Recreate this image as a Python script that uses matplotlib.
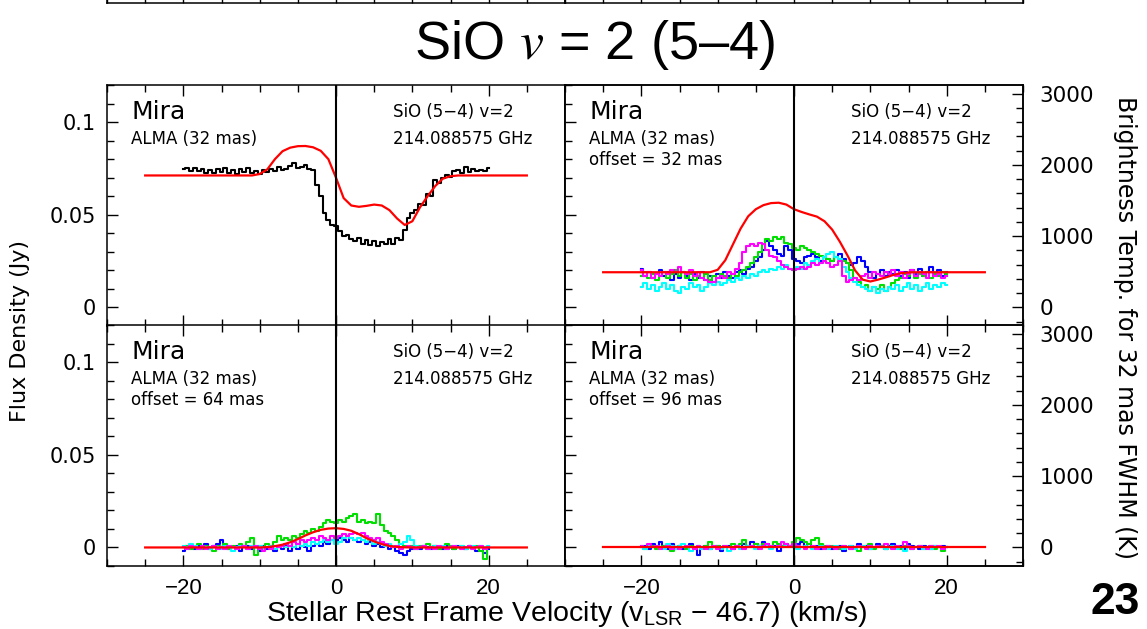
import numpy as np
import matplotlib
matplotlib.use('Agg')
import matplotlib.pyplot as plt
from matplotlib.ticker import MultipleLocator, FixedLocator

plt.rcParams['mathtext.fontset'] = 'custom'
plt.rcParams['mathtext.rm'] = 'Liberation Sans'
plt.rcParams['mathtext.it'] = 'Liberation Sans:italic'

# channel velocities (km/s) of the spectra and of the red model curves
vel = np.arange(-20, 20.01, 0.5)
vmod = np.arange(-25, 26, 1)

# ---- panel 1: centre, black spectrum + model (Jy)
obs_c = [0.0745, 0.0752, 0.0738, 0.0750, 0.0735, 0.0748, 0.0728, 0.0742, 0.0725, 0.0745,
         0.0732, 0.0750, 0.0728, 0.0740, 0.0722, 0.0745, 0.0730, 0.0752, 0.0726, 0.0738,
         0.0722, 0.0742, 0.0730, 0.0748, 0.0735, 0.0755, 0.0740, 0.0745, 0.0765, 0.0778,
         0.0752, 0.0760, 0.0770, 0.0748, 0.0740, 0.0660, 0.0600, 0.0510, 0.0470, 0.0445,
         0.0440, 0.0410, 0.0385, 0.0390, 0.0370, 0.0360, 0.0375, 0.0340, 0.0365, 0.0335,
         0.0360, 0.0330, 0.0355, 0.0340, 0.0370, 0.0345, 0.0375, 0.0365, 0.0420, 0.0480,
         0.0510, 0.0525, 0.0560, 0.0555, 0.0610, 0.0600, 0.0690, 0.0670, 0.0700, 0.0715,
         0.0705, 0.0735, 0.0740, 0.0728, 0.0755, 0.0730, 0.0745, 0.0735, 0.0742, 0.0738,
         0.0752]
mod_c = [0.0712] * 15 + [0.0720, 0.0745, 0.0800, 0.0843, 0.0862, 0.0870, 0.0871, 0.0864,
                         0.0845, 0.0800, 0.0700, 0.0590, 0.0550, 0.0543, 0.0548, 0.0555,
                         0.0550, 0.0525, 0.0480, 0.0445, 0.0465, 0.0540, 0.0600, 0.0655,
                         0.0695, 0.0708] + [0.0712] * 10

# ---- panel 2: offset 32 mas
blue_32 = [0.021, 0.017, 0.019, 0.016, 0.018, 0.020, 0.017, 0.019, 0.015, 0.018,
           0.016, 0.019, 0.017, 0.015, 0.018, 0.016, 0.019, 0.015, 0.017, 0.014,
           0.018, 0.016, 0.019, 0.017, 0.016, 0.019, 0.020, 0.018, 0.021, 0.022,
           0.025, 0.027, 0.031, 0.036, 0.033, 0.031, 0.029, 0.028, 0.033, 0.031,
           0.026, 0.025, 0.024, 0.027, 0.028, 0.029, 0.027, 0.025, 0.027, 0.026,
           0.025, 0.027, 0.029, 0.026, 0.024, 0.023, 0.024, 0.027, 0.025, 0.022,
           0.019, 0.016, 0.018, 0.020, 0.017, 0.019, 0.018, 0.020, 0.017, 0.019,
           0.016, 0.020, 0.018, 0.021, 0.017, 0.019, 0.022, 0.018, 0.020, 0.017,
           0.019]
green_32 = [0.017, 0.019, 0.016, 0.018, 0.015, 0.017, 0.019, 0.016, 0.018, 0.020,
            0.017, 0.019, 0.016, 0.018, 0.015, 0.017, 0.016, 0.018, 0.015, 0.017,
            0.016, 0.018, 0.017, 0.016, 0.018, 0.017, 0.019, 0.020, 0.022, 0.024,
            0.027, 0.030, 0.034, 0.037, 0.036, 0.038, 0.037, 0.038, 0.035, 0.034,
            0.032, 0.031, 0.033, 0.032, 0.031, 0.030, 0.029, 0.028, 0.027, 0.026,
            0.025, 0.027, 0.026, 0.025, 0.024, 0.020, 0.016, 0.014, 0.011, 0.012,
            0.009, 0.011, 0.010, 0.012, 0.009, 0.011, 0.013, 0.015, 0.016, 0.018,
            0.017, 0.019, 0.016, 0.018, 0.017, 0.019, 0.016, 0.018, 0.017, 0.019,
            0.018]
mag_32 = [0.020, 0.017, 0.019, 0.016, 0.018, 0.017, 0.019, 0.018, 0.020, 0.019,
          0.022, 0.019, 0.018, 0.020, 0.017, 0.019, 0.016, 0.015, 0.014, 0.014,
          0.016, 0.017, 0.016, 0.019, 0.018, 0.021, 0.024, 0.030, 0.033, 0.034,
          0.033, 0.035, 0.034, 0.031, 0.028, 0.027, 0.025, 0.023, 0.022, 0.021,
          0.020, 0.021, 0.022, 0.021, 0.022, 0.024, 0.023, 0.024, 0.025, 0.024,
          0.022, 0.023, 0.025, 0.017, 0.014, 0.015, 0.016, 0.015, 0.017, 0.018,
          0.016, 0.019, 0.018, 0.017, 0.019, 0.018, 0.020, 0.017, 0.019, 0.016,
          0.018, 0.020, 0.017, 0.019, 0.018, 0.016, 0.019, 0.017, 0.018, 0.016,
          0.017]
cyan_32 = [0.011, 0.013, 0.010, 0.012, 0.009, 0.011, 0.013, 0.010, 0.012, 0.009,
           0.008, 0.011, 0.010, 0.013, 0.011, 0.012, 0.009, 0.011, 0.013, 0.012,
           0.014, 0.012, 0.013, 0.015, 0.014, 0.016, 0.015, 0.017, 0.016, 0.018,
           0.017, 0.019, 0.020, 0.019, 0.021, 0.020, 0.022, 0.021, 0.023, 0.021,
           0.020, 0.022, 0.021, 0.024, 0.023, 0.025, 0.026, 0.024, 0.027, 0.029,
           0.030, 0.027, 0.026, 0.022, 0.019, 0.016, 0.014, 0.012, 0.011, 0.010,
           0.009, 0.011, 0.008, 0.010, 0.009, 0.011, 0.010, 0.012, 0.009, 0.011,
           0.013, 0.010, 0.012, 0.009, 0.011, 0.013, 0.010, 0.012, 0.011, 0.013,
           0.012]
mod_32 = [0.0190] * 15 + [0.0203, 0.0255, 0.0340, 0.0425, 0.0492, 0.0530, 0.0552, 0.0563,
                          0.0565, 0.0555, 0.0530, 0.0515, 0.0502, 0.0490, 0.0465, 0.0420,
                          0.0355, 0.0281, 0.0200, 0.0150, 0.0140, 0.0150, 0.0162, 0.0175,
                          0.0185, 0.0189] + [0.0190] * 10

# ---- panel 3: offset 64 mas
blue_64 = [-0.002, 0.001, 0.000, -0.001, 0.001, 0.000, 0.002, -0.001, 0.001, 0.002,
           0.004, 0.001, -0.001, 0.000, 0.001, -0.002, 0.000, 0.001, -0.001, 0.000,
           -0.002, 0.001, -0.001, 0.000, -0.002, 0.000, -0.001, 0.001, -0.002, 0.000,
           -0.001, 0.001, 0.000, -0.002, 0.001, 0.002, 0.001, 0.003, 0.002, 0.004,
           0.003, 0.005, 0.004, 0.003, 0.005, 0.004, 0.003, 0.004, 0.002, 0.003,
           0.001, 0.002, 0.000, 0.001, -0.001, 0.000, -0.002, -0.003, -0.004, -0.002,
           -0.001, 0.000, -0.001, 0.001, 0.000, -0.001, 0.001, 0.000, -0.001, 0.001,
           0.000, -0.001, 0.001, 0.000, -0.001, 0.001, 0.000, -0.002, 0.000, -0.003,
           -0.001]
green_64 = [0.000, 0.001, -0.001, 0.000, 0.002, -0.001, 0.001, 0.000, -0.002, 0.001,
            0.000, 0.002, -0.001, 0.001, 0.000, 0.002, 0.001, 0.003, 0.005, -0.004,
            0.001, 0.000, 0.002, 0.001, 0.003, 0.006, 0.004, 0.005, 0.004, 0.006,
            0.005, 0.007, 0.009, 0.008, 0.010, 0.009, 0.011, 0.013, 0.015, 0.014,
            0.013, 0.015, 0.014, 0.016, 0.017, 0.018, 0.014, 0.015, 0.013, 0.014,
            0.013, 0.018, 0.012, 0.009, 0.008, 0.006, 0.004, 0.002, 0.001, 0.000,
            0.001, -0.001, 0.001, 0.000, 0.002, 0.000, 0.001, -0.001, 0.000, 0.002,
            0.001, -0.001, 0.000, 0.001, -0.001, 0.001, 0.000, 0.001, -0.002, -0.006,
            0.000]
mag_64 = [0.000, -0.001, 0.001, 0.000, -0.001, 0.001, -0.001, 0.000, 0.001, -0.001,
          0.000, -0.001, 0.001, 0.000, -0.001, 0.000, 0.001, -0.001, 0.000, 0.001,
          -0.001, -0.002, 0.000, -0.001, 0.001, 0.000, 0.001, 0.002, 0.001, 0.003,
          0.002, 0.004, 0.003, 0.004, 0.005, 0.004, 0.006, 0.005, 0.004, 0.006,
          0.005, 0.006, 0.007, 0.006, 0.007, 0.008, 0.007, 0.008, 0.006, 0.005,
          0.004, 0.005, 0.003, 0.002, 0.001, 0.000, 0.001, -0.001, 0.000, 0.001,
          0.000, -0.001, 0.000, 0.001, -0.001, 0.000, -0.001, 0.001, 0.000, -0.001,
          0.000, 0.001, 0.000, -0.001, 0.000, 0.001, -0.001, 0.000, 0.001, -0.001,
          0.000]
cyan_64 = [0.001, 0.000, 0.002, 0.001, -0.001, 0.001, 0.000, -0.001, 0.001, 0.000,
           -0.001, 0.001, 0.000, -0.002, 0.000, 0.001, 0.000, -0.001, 0.001, 0.000,
           0.001, -0.001, 0.000, 0.001, -0.001, 0.000, 0.001, 0.000, 0.001, 0.000,
           0.002, 0.001, 0.002, 0.001, 0.003, 0.002, 0.003, 0.004, 0.003, 0.004,
           0.002, 0.003, 0.005, 0.006, 0.005, 0.004, 0.005, 0.004, 0.003, 0.004,
           0.002, 0.003, 0.002, 0.001, 0.002, 0.001, 0.000, 0.002, 0.003, 0.006,
           0.004, 0.001, 0.000, 0.001, -0.001, 0.000, 0.001, 0.000, 0.001, -0.001,
           0.000, 0.001, 0.000, 0.001, -0.001, 0.000, 0.001, 0.000, 0.001, 0.000,
           0.001]
mod_64 = [0.0] * 15 + [0.0, 0.0002, 0.0007, 0.0015, 0.0028, 0.0045, 0.0065, 0.0082,
                       0.0095, 0.0102, 0.0104, 0.0100, 0.0090, 0.0072, 0.0050, 0.0032,
                       0.0018, 0.0008, 0.0003, 0.0001, 0.0, 0.0, 0.0, 0.0,
                       0.0, 0.0] + [0.0] * 10

# ---- panel 4: offset 96 mas
blue_96 = [0.000, 0.001, -0.001, 0.002, 0.000, 0.003, 0.001, -0.001, 0.002, 0.000,
           0.001, -0.001, 0.000, 0.002, -0.001, -0.004, 0.000, 0.001, -0.001, 0.000,
           0.001, -0.002, 0.000, 0.001, -0.001, 0.001, 0.000, 0.002, 0.001, 0.003,
           0.002, 0.001, 0.003, 0.002, 0.000, 0.001, -0.002, 0.000, 0.002, 0.001,
           0.000, 0.002, 0.003, 0.001, 0.002, 0.000, 0.001, -0.001, 0.000, 0.001,
           -0.001, 0.000, 0.001, -0.002, 0.000, 0.001, 0.000, 0.002, 0.000, 0.001,
           -0.001, 0.000, 0.002, 0.001, -0.001, 0.001, 0.002, 0.000, 0.001, -0.001,
           0.002, 0.001, 0.000, -0.001, 0.001, 0.000, -0.001, 0.001, 0.000, 0.001,
           0.000]
green_96 = [0.001, -0.001, 0.000, 0.001, -0.001, 0.000, 0.001, 0.000, -0.002, 0.000,
            0.001, 0.000, -0.001, 0.001, 0.000, 0.001, 0.000, 0.001, 0.003, 0.000,
            0.001, -0.001, 0.001, 0.000, 0.002, 0.001, 0.002, 0.004, 0.001, 0.000,
            0.002, 0.001, 0.002, 0.000, 0.001, 0.003, 0.002, 0.001, 0.002, 0.001,
            0.003, 0.005, 0.004, 0.003, 0.002, 0.004, 0.005, 0.002, 0.001, 0.000,
            0.001, 0.000, -0.001, 0.001, 0.000, -0.001, 0.000, -0.002, 0.001, 0.000,
            0.002, -0.001, 0.000, 0.001, -0.001, 0.000, 0.001, 0.000, -0.001, 0.001,
            0.000, -0.001, 0.000, 0.001, -0.001, 0.000, 0.001, -0.001, 0.000, -0.002,
            0.000]
mag_96 = [0.001, 0.000, 0.002, 0.000, 0.001, -0.001, 0.000, 0.001, -0.001, 0.000,
          -0.001, 0.000, 0.001, 0.000, -0.001, 0.001, 0.000, -0.001, 0.000, 0.001,
          -0.001, 0.000, 0.001, 0.000, -0.001, 0.001, 0.000, -0.001, 0.000, 0.001,
          0.000, -0.001, 0.001, 0.002, 0.001, 0.000, 0.001, 0.003, 0.002, 0.001,
          0.002, 0.001, 0.000, -0.001, 0.000, 0.001, -0.001, 0.000, -0.001, 0.001,
          0.000, -0.001, 0.000, 0.001, 0.000, -0.001, 0.000, 0.001, 0.000, -0.001,
          0.001, 0.000, 0.001, 0.000, 0.002, 0.000, -0.001, 0.001, 0.000, 0.003,
          0.001, -0.001, 0.000, 0.001, 0.000, -0.001, 0.001, 0.000, 0.001, -0.001,
          0.000]
cyan_96 = [0.000, -0.001, 0.001, 0.000, 0.001, 0.000, -0.001, 0.002, 0.001, -0.001,
           0.001, 0.002, 0.000, -0.002, 0.000, 0.001, -0.001, 0.000, -0.001, 0.001,
           0.000, -0.001, 0.000, -0.002, 0.000, 0.001, -0.001, 0.000, 0.001, 0.000,
           -0.001, 0.001, 0.000, 0.001, -0.001, 0.000, 0.001, 0.000, 0.001, 0.000,
           0.001, -0.001, 0.000, 0.001, 0.000, -0.001, 0.000, 0.001, 0.000, -0.001,
           0.000, 0.001, 0.000, -0.001, 0.000, 0.001, -0.001, 0.000, 0.001, 0.000,
           -0.001, 0.000, 0.001, 0.000, -0.001, 0.000, 0.001, -0.001, 0.000, -0.002,
           0.000, -0.001, 0.000, 0.001, -0.001, 0.000, -0.001, 0.001, 0.000, -0.001,
           0.000]
mod_96 = [0.0] * 51

offsets = [None, '32', '64', '96']
K_PER_JY = 26000.0

col_blue, col_green, col_mag, col_cyan, col_red = '#0000ff', '#00e000', '#ff00ff', '#00ffff', '#ff0000'

W, H = 1147, 629
fig = plt.figure(figsize=(W / 100, H / 100), dpi=100)

xl = [107, 565]
xw = 458
yt = [85, 325]
yh = 241

panels = [
    dict(spec=[(obs_c, 'k')], model=mod_c),
    dict(spec=[(blue_32, col_blue), (green_32, col_green), (cyan_32, col_cyan), (mag_32, col_mag)], model=mod_32),
    dict(spec=[(blue_64, col_blue), (green_64, col_green), (cyan_64, col_cyan), (mag_64, col_mag)], model=mod_64),
    dict(spec=[(blue_96, col_blue), (green_96, col_green), (cyan_96, col_cyan), (mag_96, col_mag)], model=mod_96),
]

wide = ['DejaVu Sans']
helv = ['Liberation Sans', 'DejaVu Sans']

for i, p in enumerate(panels):
    row, col = divmod(i, 2)
    left = xl[col] / W
    bottom = 1 - (yt[row] + yh) / H
    ax = fig.add_axes([left, bottom, xw / W, yh / H])
    for data, c in p['spec']:
        ax.step(vel, data, where='mid', color=c, lw=1.5)
    ax.plot(vmod, p['model'], color=col_red, lw=1.6)
    ax.axvline(0, color='k', lw=1.5)
    ax.set_xlim(-30, 30)
    ax.set_ylim(-0.01, 0.12)
    for s in ax.spines.values():
        s.set_linewidth(1.1)

    ax.xaxis.set_major_locator(FixedLocator([-20, 0, 20]))
    ax.xaxis.set_minor_locator(MultipleLocator(5))
    ax.yaxis.set_major_locator(FixedLocator([0, 0.05, 0.1]))
    ax.yaxis.set_minor_locator(MultipleLocator(0.01))
    ax.tick_params(which='both', direction='in', top=True, bottom=True,
                   left=(col == 0), right=False, width=1.0)
    ax.tick_params(which='major', length=8)
    ax.tick_params(which='minor', length=5)
    ax.tick_params(axis='x', labelbottom=(row == 1), pad=9)
    ax.tick_params(axis='y', labelleft=(col == 0), pad=8)
    if row == 1:
        ax.set_xticklabels(['\u221220', '0', '20'], family=helv, fontsize=16)
    if col == 0:
        ax.set_yticklabels(['0', '0.05', '0.1'], family=wide, fontsize=15)

    if col == 1:
        tw = ax.twinx()
        tw.set_ylim(-0.01 * K_PER_JY, 0.12 * K_PER_JY)
        tw.yaxis.set_major_locator(FixedLocator([0, 1000, 2000, 3000]))
        tw.yaxis.set_minor_locator(MultipleLocator(200))
        tw.tick_params(which='both', direction='in', right=True, left=False, width=1.0)
        tw.tick_params(which='major', length=8)
        tw.tick_params(which='minor', length=5)
        tw.tick_params(axis='y', pad=12)
        tw.set_yticklabels(['0', '1000', '2000', '3000'], family=wide, fontsize=15.5)
        for s in tw.spines.values():
            s.set_linewidth(1.1)

    ax.text(0.054, 0.889, 'Mira', transform=ax.transAxes, fontsize=18,
            family=wide, va='center', ha='left')
    ax.text(0.052, 0.778, 'ALMA (32 mas)', transform=ax.transAxes, fontsize=12,
            family=wide, va='center', ha='left')
    if offsets[i] is not None:
        ax.text(0.052, 0.687, 'offset = %s mas' % offsets[i], transform=ax.transAxes,
                fontsize=12, family=wide, va='center', ha='left')
    ax.text(0.624, 0.889, 'SiO (5\u22124) v=2', transform=ax.transAxes, fontsize=12,
            family=wide, va='center', ha='left')
    ax.text(0.624, 0.778, '214.088575 GHz', transform=ax.transAxes, fontsize=12,
            family=wide, va='center', ha='left')

# bottom edge of the panels from the previous page, cut off at the top
for col in range(2):
    tax = fig.add_axes([xl[col] / W, 1 - 3 / H, xw / W, 0.1])
    tax.set_xlim(-30, 30)
    tax.set_yticks([])
    tax.xaxis.set_major_locator(MultipleLocator(5))
    tax.tick_params(direction='in', length=6, labelbottom=False, width=1.0)
    tax.spines['top'].set_visible(False)
    for s in tax.spines.values():
        s.set_linewidth(1.1)

fig.text(595 / W, 1 - 45 / H, 'SiO $v$ = 2 (5\u20134)',
         fontsize=39, family=helv, ha='center', va='center',
         math_fontfamily='stix')
fig.text(20 / W, 1 - 331 / H, 'Flux Density (Jy)', rotation=90, fontsize=16,
         family=wide, ha='center', va='center')
fig.text(1125 / W, 1 - 327 / H, 'Brightness Temp. for 32 mas FWHM (K)', rotation=-90,
         fontsize=17, family=wide, ha='center', va='center')
fig.text(567 / W, 1 - 614 / H,
         'Stellar Rest Frame Velocity (v$_{\\mathrm{LSR}}$ \u2212 46.7) (km/s)',
         fontsize=20.5, family=helv, ha='center', va='center')
fig.text(1115 / W, 1 - 603 / H, '23', fontsize=32, fontweight='bold',
         family=helv, ha='center', va='center')

fig.savefig('out.png', dpi=100)
